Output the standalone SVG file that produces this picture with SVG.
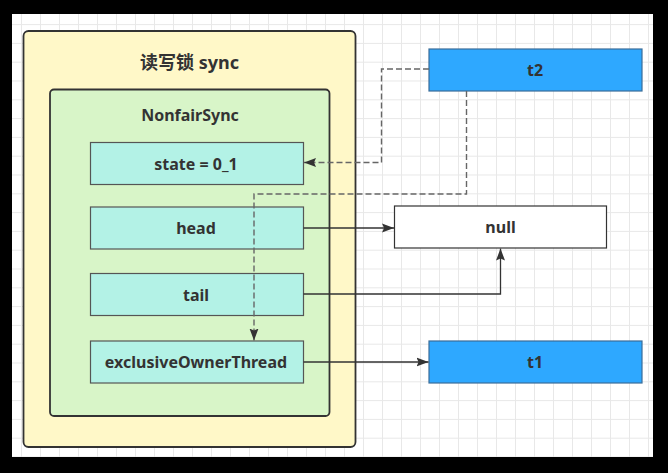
<svg xmlns="http://www.w3.org/2000/svg" width="668" height="473" viewBox="0 0 668 473">
<style>
.t{font-family:"Noto Sans","Noto Sans CJK SC",sans-serif;font-weight:bold;fill:#333;text-anchor:middle;dominant-baseline:central}
.field{fill:#b3f2e6;stroke:#555;stroke-width:1.2}
.thread{fill:#2ea8ff;stroke:#3a6d99;stroke-width:1.2}
.solid{fill:none;stroke:#333;stroke-width:1.3}
.dash{fill:none;stroke:#666;stroke-width:1.4;stroke-dasharray:6 3}
</style>
<defs>
<pattern id="grid" patternUnits="userSpaceOnUse" x="2" y="5.3" width="19" height="18.8">
<path d="M0 0.5H19M0.5 0V18.8" fill="none" stroke="#e8e8e8" stroke-width="1"/>
</pattern>
<marker id="arr" viewBox="0 0 12 10" refX="12" refY="5" markerWidth="12" markerHeight="10" markerUnits="userSpaceOnUse" orient="auto">
<path d="M0 0.5L12 5L0 9.5L2 5Z" fill="#333"/>
</marker>
</defs>
<rect width="668" height="473" fill="#000"/>
<rect x="12" y="14" width="641" height="443" fill="#fff"/>
<rect x="12" y="14" width="641" height="443" fill="url(#grid)"/>

<g id="sync">
<rect x="23.5" y="31" width="332" height="416" rx="5" fill="#fff8c8" stroke="#333" stroke-width="1.8"/>
<text class="t" x="189.5" y="62" font-size="18">读写锁 sync</text>
</g>
<g id="nonfairsync">
<rect x="50" y="89.5" width="279.5" height="326.5" rx="4" fill="#d8f5c8" stroke="#333" stroke-width="1.8"/>
<text class="t" x="190" y="115" font-size="16">NonfairSync</text>
</g>
<g id="state">
<rect class="field" x="90.5" y="142.5" width="213" height="42"/>
<text class="t" x="196" y="163.5" font-size="16">state = 0_1</text>
</g>
<g id="head">
<rect class="field" x="90.5" y="207" width="213" height="42"/>
<text class="t" x="196" y="228" font-size="16">head</text>
</g>
<g id="tail">
<rect class="field" x="90.5" y="273.5" width="213" height="42"/>
<text class="t" x="196" y="294.5" font-size="16">tail</text>
</g>
<g id="eot">
<rect class="field" x="90.5" y="341" width="213" height="42"/>
<text class="t" x="196" y="362" font-size="16">exclusiveOwnerThread</text>
</g>
<g id="null">
<rect x="394.5" y="206" width="212" height="42" fill="#fff" stroke="#333" stroke-width="1.2"/>
<text class="t" x="500.5" y="227" font-size="16">null</text>
</g>
<g id="t2">
<rect class="thread" x="429" y="49" width="213" height="42"/>
<text class="t" x="535" y="70" font-size="16">t2</text>
</g>
<g id="t1">
<rect class="thread" x="429" y="341" width="213" height="42"/>
<text class="t" x="535" y="362" font-size="16">t1</text>
</g>

<g id="connectors">
<path class="dash" d="M429 69H381.5V162.5H304" marker-end="url(#arr)"/>
<path class="dash" d="M466.5 91V194H254V340.5" marker-end="url(#arr)"/>
<path class="solid" d="M303.5 228H394" marker-end="url(#arr)"/>
<path class="solid" d="M303.5 294H500.5V248.5" marker-end="url(#arr)"/>
<path class="solid" d="M303.5 362H428.5" marker-end="url(#arr)"/>
</g>
</svg>
